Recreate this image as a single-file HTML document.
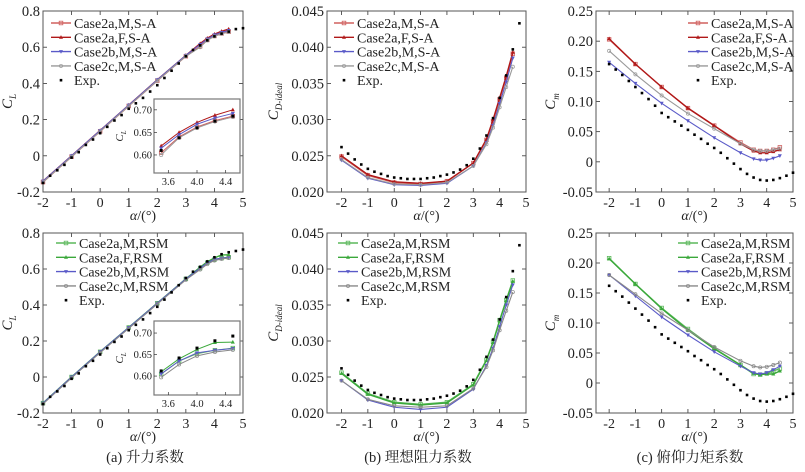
<!DOCTYPE html>
<html><head><meta charset="utf-8"><style>
html,body{margin:0;padding:0;background:#fff;}
svg text{font-family:"Liberation Serif","Noto Serif CJK SC",serif;}
</style></head><body>
<svg id="fig" width="805" height="467" viewBox="0 0 805 467" xmlns="http://www.w3.org/2000/svg"></svg>
<script>
// ---------- data ----------
const alphaCFD = [-2,-1,0,1,2,3,3.5,3.75,4,4.25,4.5];
const alphaExp = [-2,-1.75,-1.5,-1.25,-1,-0.75,-0.5,-0.25,0,0.25,0.5,0.75,1,1.25,1.5,1.75,2,2.25,2.5,2.75,3,3.25,3.5,3.75,4,4.25,4.5,4.75,5];
const clExpTop = [-0.15,-0.11,-0.08,-0.05,-0.01,0.02,0.06,0.09,0.125,0.16,0.195,0.225,0.26,0.29,0.32,0.355,0.39,0.43,0.47,0.51,0.55,0.585,0.61,0.638,0.66,0.675,0.686,0.70,0.705];
const clExpBot = [-0.15,-0.11,-0.08,-0.05,-0.01,0.02,0.06,0.09,0.125,0.16,0.195,0.225,0.26,0.29,0.32,0.355,0.39,0.43,0.47,0.51,0.55,0.585,0.612,0.642,0.665,0.682,0.693,0.70,0.708];
const clSA_M = [-0.145,-0.005,0.135,0.275,0.415,0.55,0.605,0.64,0.662,0.676,0.686];
const clSA_F = [-0.14,0.0,0.14,0.28,0.42,0.555,0.62,0.65,0.672,0.688,0.70];
const clSA_b = [-0.14,0.0,0.14,0.28,0.42,0.555,0.615,0.645,0.668,0.682,0.692];
const clSA_c = [-0.145,-0.005,0.135,0.275,0.415,0.55,0.60,0.638,0.66,0.674,0.684];
const clRSM_M = [-0.145,0.0,0.14,0.275,0.41,0.545,0.605,0.635,0.652,0.66,0.665];
const clRSM_F = [-0.145,0.0,0.14,0.275,0.41,0.545,0.61,0.64,0.662,0.678,0.679];
const clRSM_b = [-0.145,0.0,0.14,0.275,0.41,0.545,0.605,0.635,0.654,0.66,0.664];
const clRSM_c = [-0.15,-0.005,0.135,0.27,0.405,0.54,0.597,0.627,0.647,0.656,0.661];
const cdExp = [0.0262,0.0253,0.0245,0.0238,0.0232,0.0228,0.0225,0.0222,0.0220,0.0219,0.0218,0.0218,0.0218,0.0219,0.0220,0.0222,0.0224,0.0227,0.0231,0.0237,0.0246,0.0260,0.0278,0.0302,0.0330,0.0361,0.0397,0.0433,null];
const cdSA_M = [0.0249,0.0223,0.0213,0.0211,0.0215,0.0240,0.0272,0.0298,0.0328,0.0358,0.0391];
const cdSA_F = [0.0250,0.0224,0.0214,0.0212,0.0215,0.0240,0.0273,0.0300,0.0330,0.0360,0.0393];
const cdSA_b = [0.0244,0.0219,0.0210,0.0209,0.0212,0.0236,0.0268,0.0292,0.0322,0.0352,0.0385];
const cdSA_c = [0.0245,0.0220,0.0211,0.0210,0.0213,0.0236,0.0266,0.0289,0.0317,0.0345,0.0373];
const cdRSM_M = [0.0256,0.0227,0.0215,0.0212,0.0215,0.0240,0.0274,0.0299,0.0329,0.0357,0.0384];
const cdRSM_F = [0.0255,0.0226,0.0214,0.0211,0.0214,0.0239,0.0273,0.0298,0.0328,0.0356,0.0383];
const cdRSM_b = [0.0245,0.0218,0.0208,0.0205,0.0208,0.0233,0.0266,0.0290,0.0320,0.0350,0.0378];
const cdRSM_c = [0.0245,0.0219,0.0210,0.0208,0.0210,0.0234,0.0264,0.0287,0.0315,0.0342,0.0368];
const cmExp = [0.162,0.153,0.144,0.134,0.124,0.114,0.104,0.093,0.081,0.074,0.067,0.060,0.053,0.045,0.038,0.030,0.023,0.015,0.006,-0.003,-0.012,-0.020,-0.026,-0.030,-0.031,-0.030,-0.027,-0.023,-0.018];
const cmSA_M = [0.203,0.162,0.124,0.089,0.060,0.032,0.020,0.018,0.018,0.020,0.024];
const cmSA_F = [0.204,0.162,0.124,0.089,0.060,0.030,0.018,0.015,0.015,0.017,0.020];
const cmSA_b = [0.165,0.130,0.097,0.068,0.040,0.015,0.005,0.003,0.003,0.006,0.010];
const cmSA_c = [0.184,0.145,0.110,0.080,0.055,0.030,0.020,0.018,0.018,0.020,0.022];
const cmRSM_M = [0.208,0.165,0.125,0.090,0.058,0.030,0.015,0.014,0.016,0.020,0.024];
const cmRSM_F = [0.207,0.165,0.124,0.088,0.057,0.030,0.016,0.014,0.015,0.015,0.020];
const cmRSM_b = [0.180,0.145,0.110,0.080,0.052,0.028,0.017,0.015,0.017,0.022,0.028];
const cmRSM_c = [0.180,0.148,0.116,0.088,0.060,0.037,0.028,0.026,0.027,0.030,0.034];
const xTicks = [-2,-1,0,1,2,3,4,5];
const clTicks = [-0.2,0,0.2,0.4,0.6,0.8];
const clTickLabels = ["-0.2","0","0.2","0.4","0.6","0.8"];
const cdTicks = [0.020,0.025,0.030,0.035,0.040,0.045];
const cdTickLabels = ["0.020","0.025","0.030","0.035","0.040","0.045"];
const cmTicks = [-0.05,0,0.05,0.10,0.15,0.20,0.25];
const cmTickLabels = ["-0.05","0","0.05","0.10","0.15","0.20","0.25"];
const insetXTicks = [3.6,4.0,4.4];
const insetXLabels = ["3.6","4.0","4.4"];
const insetYTicks = [0.60,0.65,0.70];
const insetYLabels = ["0.60","0.65","0.70"];
const namesSA = ["Case2a,M,S-A","Case2a,F,S-A","Case2b,M,S-A","Case2c,M,S-A"];
const namesRSM = ["Case2a,M,RSM","Case2a,F,RSM","Case2b,M,RSM","Case2c,M,RSM"];

// ---------- drawing ----------
const NS = "http://www.w3.org/2000/svg";
const svg = document.getElementById('fig');
function el(tag, attrs, parent, text){
  const e = document.createElementNS(NS, tag);
  for (const k in attrs) e.setAttribute(k, attrs[k]);
  if (text !== undefined) e.textContent = text;
  (parent || svg).appendChild(e);
  return e;
}
const colSA = ["#d0605f","#b01818","#5a5ac8","#999999"];
const colRSM = ["#5cb85c","#3aa83a","#5a5ac8","#888888"];
const mk = ["sq","tri","tridown","circ"];

function marker(g, t, x, y, c){
  let m;
  if (t==="sq") m = el('rect',{x:x-1.8,y:y-1.8,width:3.6,height:3.6,fill:'none',stroke:c,'stroke-width':0.8},g);
  else if (t==="tri") m = el('path',{d:`M${x} ${y-2.2}L${x+2} ${y+1.5}L${x-2} ${y+1.5}Z`,fill:c},g);
  else if (t==="tridown") m = el('path',{d:`M${x} ${y+2.2}L${x+2} ${y-1.5}L${x-2} ${y-1.5}Z`,fill:c},g);
  else m = el('circle',{cx:x,cy:y,r:1.6,fill:'none',stroke:c,'stroke-width':0.7},g);
  
  
}

function panel(o){
  const g = el('g',{});  
  const X = v => o.L + (v - o.x0)/(o.x1 - o.x0)*(o.R - o.L);
  const Y = v => o.B - (v - o.y0)/(o.y1 - o.y0)*(o.B - o.T);
  xTicks.forEach(t=>{
    const x = X(t);
    el('line',{x1:x,y1:o.B,x2:x,y2:o.B-4,stroke:'#333','stroke-width':0.8},g);
    el('line',{x1:x,y1:o.T,x2:x,y2:o.T+4,stroke:'#333','stroke-width':0.8},g);
    const tl = el('text',{x:x,y:o.B+15,'text-anchor':'middle','font-size':14,fill:'#222'},g,String(t));
     
  });
  o.yt.forEach((t,i)=>{
    const y = Y(t);
    el('line',{x1:o.L,y1:y,x2:o.L+4,y2:y,stroke:'#333','stroke-width':0.8},g);
    el('line',{x1:o.R,y1:y,x2:o.R-4,y2:y,stroke:'#333','stroke-width':0.8},g);
    const tl = el('text',{x:o.L-3,y:y+5,'text-anchor':'end','font-size':14.5,fill:'#222'},g,o.yl[i]);
     
  });
  const box = el('rect',{x:o.L,y:o.T,width:o.R-o.L,height:o.B-o.T,fill:'none',stroke:'#555','stroke-width':1},g);
   
  const xt = el('text',{x:(o.L+o.R)/2,y:o.B+28,'text-anchor':'middle','font-size':14,fill:'#222'},g);
   
  el('tspan',{'font-style':'italic'},xt,'α'); el('tspan',{},xt,'/(°)');
  const yt = el('text',{transform:`translate(${o.ytx},${(o.T+o.B)/2}) rotate(-90)`,'text-anchor':'middle','font-size':15,fill:'#222'},g);
   
  el('tspan',{'font-style':'italic'},yt,'C');
  el('tspan',{'font-style':'italic','font-size':9,dy:4},yt,o.sub);
  o.series.forEach((s,i)=>{
    const pts = alphaCFD.map((a,j)=>[X(a),Y(s[j])]);
    const p = el('polyline',{points:pts.map(q=>q.join(',')).join(' '),fill:'none',stroke:o.cols[i],'stroke-width':i<2?1.4:1.1},g);
     
    pts.forEach(q=>marker(g,mk[i],q[0],q[1],o.cols[i]));
  });
  alphaExp.forEach((a,j)=>{
    const v = o.exp[j]; if (v===null) return;
    const d = el('rect',{x:X(a)-1.3,y:Y(v)-1.3,width:2.6,height:2.6,fill:'#000'},g);
     
  });
  const lg = el('g',{},g);  
  o.names.concat(['Exp.']).forEach((n,i)=>{
    const y = o.legY + i*14.3;
    const it = el('g',{},lg);  
    if (i<4){
      el('line',{x1:o.legX,y1:y,x2:o.legX+20,y2:y,stroke:o.cols[i],'stroke-width':1.4},it);
      marker(it,mk[i],o.legX+10,y,o.cols[i]);
    } else {
      el('rect',{x:o.legX+8.7,y:y-1.3,width:2.6,height:2.6,fill:'#000'},it);
    }
    el('text',{x:o.legX+23,y:y+5,'font-size':14,fill:'#222'},it,n);
  });
  if (o.inset){
    const I = o.inset;
    const ig = el('g',{},g);  
    el('rect',{x:I.L,y:I.T,width:I.R-I.L,height:I.B-I.T,fill:'#fff',stroke:'#777','stroke-width':1.2},ig);
    const IX = v => I.L + (v-3.4)/(4.6-3.4)*(I.R-I.L);
    const IY = v => I.B - (v-I.y0)/(I.y1-I.y0)*(I.B-I.T);
    insetXTicks.forEach((t,i)=>{
      el('line',{x1:IX(t),y1:I.B,x2:IX(t),y2:I.B-3,stroke:'#333','stroke-width':0.7},ig);
      el('text',{x:IX(t),y:I.B+12,'text-anchor':'middle','font-size':10.5,fill:'#222'},ig,insetXLabels[i]);
    });
    insetYTicks.forEach((t,i)=>{
      el('line',{x1:I.L,y1:IY(t),x2:I.L+3,y2:IY(t),stroke:'#333','stroke-width':0.7},ig);
      el('text',{x:I.L-2,y:IY(t)+3.5,'text-anchor':'end','font-size':10.5,fill:'#222'},ig,insetYLabels[i]);
    });
    const iyt = el('text',{transform:`translate(${I.L-31},${(I.T+I.B)/2}) rotate(-90)`,'text-anchor':'middle','font-size':11,fill:'#222'},ig);
    el('tspan',{'font-style':'italic'},iyt,'C'); el('tspan',{'font-style':'italic','font-size':7,dy:3},iyt,'L');
    o.series.forEach((s,i)=>{
      const pts=[]; alphaCFD.forEach((a,j)=>{ if(a>=3.5) pts.push([IX(a),IY(s[j])]); });
      el('polyline',{points:pts.map(q=>q.join(',')).join(' '),fill:'none',stroke:o.cols[i],'stroke-width':1},ig);
      pts.forEach(q=>marker(ig,mk[i],q[0],q[1],o.cols[i]));
    });
    alphaExp.forEach((a,j)=>{ if(a>=3.5 && a<=4.5) el('rect',{x:IX(a)-1.5,y:IY(o.exp[j])-1.5,width:3,height:3,fill:'#000'},ig); });
  }
}

const cols=[[43,243,-2,5],[327,526,-2.55,5],[596,793,-2.5,5]];
const rows=[[11,192],[233,413]];
const defs=[
 {name:'cl-sa-panel',c:0,r:0,yt:clTicks,yl:clTickLabels,y0:-0.2,y1:0.8,sub:'L',series:[clSA_M,clSA_F,clSA_b,clSA_c],exp:clExpTop,cols:colSA,names:namesSA,legX:51,legY:23,ytx:12,inset:{L:154,R:240,T:99,B:173,y0:0.56,y1:0.724}},
 {name:'cd-sa-panel',c:1,r:0,yt:cdTicks,yl:cdTickLabels,y0:0.02,y1:0.045,sub:'D-ideal',series:[cdSA_M,cdSA_F,cdSA_b,cdSA_c],exp:cdExp,cols:colSA,names:namesSA,legX:334,legY:23,ytx:278},
 {name:'cm-sa-panel',c:2,r:0,yt:cmTicks,yl:cmTickLabels,y0:-0.05,y1:0.25,sub:'m',series:[cmSA_M,cmSA_F,cmSA_b,cmSA_c],exp:cmExp,cols:colSA,names:namesSA,legX:688,legY:23,ytx:555},
 {name:'cl-rsm-panel',c:0,r:1,yt:clTicks,yl:clTickLabels,y0:-0.2,y1:0.8,sub:'L',series:[clRSM_M,clRSM_F,clRSM_b,clRSM_c],exp:clExpBot,cols:colRSM,names:namesRSM,legX:56,legY:243,ytx:12,inset:{L:154,R:240,T:321,B:395,y0:0.556,y1:0.728}},
 {name:'cd-rsm-panel',c:1,r:1,yt:cdTicks,yl:cdTickLabels,y0:0.02,y1:0.045,sub:'D-ideal',series:[cdRSM_M,cdRSM_F,cdRSM_b,cdRSM_c],exp:cdExp,cols:colRSM,names:namesRSM,legX:338,legY:243,ytx:278},
 {name:'cm-rsm-panel',c:2,r:1,yt:cmTicks,yl:cmTickLabels,y0:-0.05,y1:0.25,sub:'m',series:[cmRSM_M,cmRSM_F,cmRSM_b,cmRSM_c],exp:cmExp,cols:colRSM,names:namesRSM,legX:678,legY:243,ytx:555}
];
defs.forEach(d=>{
  const [L,R,x0,x1]=cols[d.c]; const [T,B]=rows[d.r];
  panel(Object.assign({L,R,x0,x1,T,B},d));
});
const caps=[[145,'(a)  升力系数','caption-a'],[418,'(b)  理想阻力系数','caption-b'],[690,'(c)  俯仰力矩系数','caption-c']];
caps.forEach(c=>{
  const t = el('text',{x:c[0],y:462,'text-anchor':'middle','font-size':14.5,fill:'#222'},svg,c[1]);
   
});
</script>
</body></html>
